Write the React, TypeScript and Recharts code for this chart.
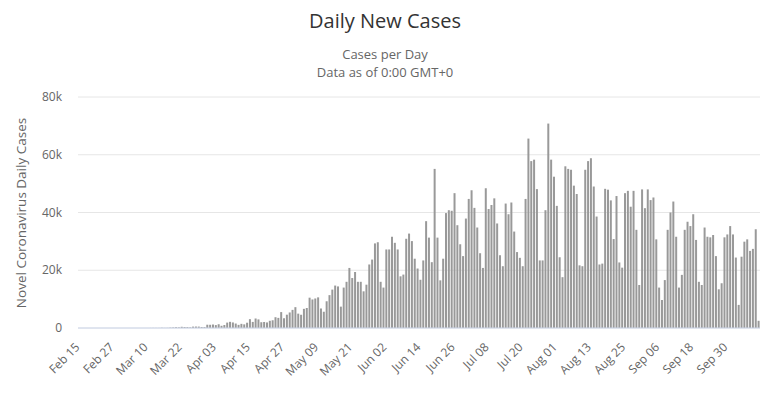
import React from "react";
import { BarChart, Bar, XAxis, YAxis, CartesianGrid } from "recharts";

// daily new cases, one array per month (Feb 15 .. Oct 11)
const feb = [0, 0, 0, 0, 0, 0, 0, 0, 0, 0, 0, 1, 0, 0, 1];
const mar = [
  0, 0, 0, 1, 4, 5, 6, 6, 0, 9, 18, 25, 21, 23, 79, 34, 57, 137, 193, 283, 224, 418, 345, 310, 232, 482, 502, 487,
  352, 323, 1138,
];
const apr = [
  1119, 1208, 1012, 1304, 770, 1031, 1873, 2136, 1922, 1546, 1089, 1442, 1261, 1832, 3058, 2105, 3257, 2976, 1996,
  2089, 1927, 2498, 2678, 3735, 3503, 5514, 3379, 4613, 5385, 6276,
];
const may = [
  7218, 4970, 4588, 6633, 6935, 10503, 9888, 10222, 10611, 6760, 5632, 9258, 11385, 13300, 14700, 14400, 7400, 14000,
  16000, 20800, 17300, 19400, 16000, 16000, 12700, 15000, 22000, 23700, 29300, 29700, 16000,
];
const jun = [
  14000, 27200, 27200, 31600, 29500, 27200, 17900, 18500, 30900, 32700, 30100, 24000, 20600, 16700, 23400, 37000,
  31300, 22800, 55100, 31300, 16500, 24000, 39800, 40800, 40600, 46700, 35600, 29000, 24900, 37900,
];
const jul = [
  44700, 47700, 41600, 34800, 25900, 20800, 48400, 41200, 42600, 44900, 36200, 25200, 21400, 43100, 39400, 43500,
  33400, 26300, 24300, 21400, 44700, 65600, 57800, 58300, 48100, 23400, 23400, 40800, 70800, 58300, 52400,
];
const aug = [
  42300, 24500, 17600, 56000, 55100, 54800, 49300, 46400, 21700, 21400, 54800, 57800, 58800, 49000, 38600, 22000,
  22300, 48200, 47900, 44200, 30800, 45700, 22700, 20900, 46700, 47500, 42000, 47500, 34000, 14900, 48000,
];
const sep = [
  41500, 48000, 44300, 45200, 30700, 14000, 9700, 16600, 34000, 40000, 43800, 31600, 14000, 18400, 34000, 36800,
  35300, 39400, 30500, 16000, 14900, 34800, 31600, 31400, 32200, 24900, 13400, 15500, 31400, 32400,
];
const oct = [35300, 32400, 24400, 8000, 24700, 29900, 30700, 26700, 27400, 34200, 2500];

const months: [string, number, number[]][] = [
  ["Feb", 15, feb],
  ["Mar", 1, mar],
  ["Apr", 1, apr],
  ["May", 1, may],
  ["Jun", 1, jun],
  ["Jul", 1, jul],
  ["Aug", 1, aug],
  ["Sep", 1, sep],
  ["Oct", 1, oct],
];

const yTicks = [0, 20000, 40000, 60000, 80000];

const data = months.flatMap(([m, start, vals]) =>
  vals.map((v, k) => ({ date: `${m} ${String(start + k).padStart(2, "0")}`, cases: v }))
);

const FONT = "'Open Sans', sans-serif";

const XTick = (props: any) => {
  const { x, payload } = props;
  const ax = x + 1;
  const ay = 348;
  return (
    <text
      x={ax}
      y={ay}
      transform={`rotate(-45 ${ax} ${ay})`}
      textAnchor="end"
      fill="#666"
      fontSize={12}
      fontFamily={FONT}
    >
      {payload.value}
    </text>
  );
};

const YTick = (props: any) => {
  const { y, payload } = props;
  const v = payload.value;
  return (
    <text x={62} y={y} dy={4} textAnchor="end" fill="#666" fontSize={12} fontFamily={FONT}>
      {v === 0 ? "0" : `${v / 1000}k`}
    </text>
  );
};

export default function App() {
  return (
    <div style={{ position: "absolute", left: 0, top: 0, width: 771, height: 397, background: "#fff" }}>
      <BarChart
        width={771}
        height={397}
        data={data}
        margin={{ top: 97, right: 11, bottom: 0, left: 0 }}
        barCategoryGap="15%"
      >
        <CartesianGrid vertical={false} stroke="#e6e6e6" />
        <XAxis
          dataKey="date"
          interval={11}
          height={69}
          tickLine={false}
          axisLine={{ stroke: "#ccd6eb" }}
          tick={<XTick />}
        />
        <YAxis
          width={78}
          domain={[0, 80000]}
          ticks={yTicks}
          axisLine={false}
          tickLine={false}
          tick={<YTick />}
        />
        <Bar dataKey="cases" fill="#999999" isAnimationActive={false} />
      </BarChart>
      <svg
        width={771}
        height={397}
        style={{ position: "absolute", left: 0, top: 0, pointerEvents: "none" }}
      >
        <text x={385} y={28} textAnchor="middle" fill="#333" fontSize={20} fontFamily={FONT}>
          Daily New Cases
        </text>
        <text x={385} y={59} textAnchor="middle" fill="#666" fontSize={13} fontFamily={FONT}>
          Cases per Day
        </text>
        <text x={385} y={77} textAnchor="middle" fill="#666" fontSize={13} fontFamily={FONT}>
          Data as of 0:00 GMT+0
        </text>
        <text
          transform="translate(26 213) rotate(-90)"
          textAnchor="middle"
          fill="#666"
          fontSize={13.5}
          fontFamily={FONT}
        >
          Novel Coronavirus Daily Cases
        </text>
      </svg>
    </div>
  );
}
